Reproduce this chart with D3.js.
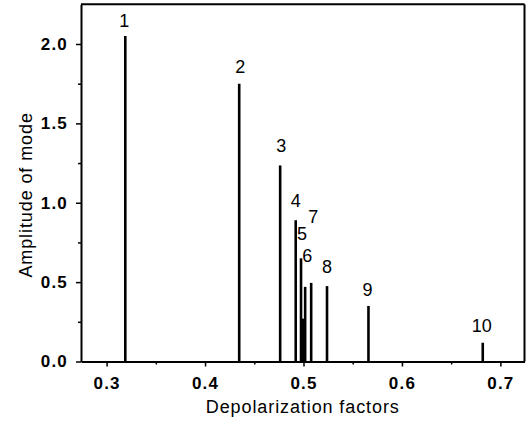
<!DOCTYPE html>
<html>
<head>
<meta charset="utf-8">
<script src="https://cdn.jsdelivr.net/npm/d3@7"></script>
<style>
  html, body { margin: 0; padding: 0; background: #fff; }
  svg { display: block; }
  text { font-family: "Liberation Sans", Arial, Helvetica, sans-serif; fill: #000; }
</style>
</head>
<body>
<svg id="chart" width="532" height="432"></svg>
<script>
// ---- data ----
const factors    = [0.319, 0.4347, 0.4763, 0.4921, 0.4975, 0.4997, 0.5017, 0.5078, 0.5239, 0.566, 0.6821];
const amplitudes = [2.05, 1.75, 1.235, 0.89, 0.65, 0.27, 0.47, 0.495, 0.475, 0.35, 0.118];
const modeLabels = ["1", "2", "3", "4", "5", null, "6", "7", "8", "9", "10"];
const xMajorTicks = [0.3, 0.4, 0.5, 0.6, 0.7];
const xMinorTicks = [0.35, 0.45, 0.55, 0.65];
const yMajorTicks = [0, 0.5, 1.0, 1.5, 2.0];
const yMinorTicks = [0.25, 0.75, 1.25, 1.75];
const xTitle = "Depolarization factors";
const yTitle = "Amplitude of mode";

// ---- layout (label nudges in pixels, per mode) ----
const labelNudge = [[-1,-9],[1,-11],[1,-13],[0,-13],[1,-18],[0,0],[2,-25],[2,-60],[0,-13],[-1,-10],[-1,-11]];

const svg = d3.select("#chart");
const mLeft = 81, mRight = 524.5, mTop = 4.3, mBottom = 361.5;

const x = d3.scaleLinear().domain([0.274, 0.7245]).range([mLeft, mRight]);
const y = d3.scaleLinear().domain([0, 2.25]).range([mBottom, mTop]);

// frame (top & right)
svg.append("line").attr("x1", mLeft).attr("x2", mRight).attr("y1", mTop).attr("y2", mTop)
  .attr("stroke", "#000").attr("stroke-width", 2);
svg.append("line").attr("x1", mRight).attr("x2", mRight).attr("y1", mTop).attr("y2", mBottom)
  .attr("stroke", "#000").attr("stroke-width", 2);

// x axis
const xAxis = svg.append("g").attr("transform", `translate(0,${mBottom})`)
  .call(d3.axisBottom(x).tickValues(xMajorTicks).tickSize(5).tickSizeOuter(0).tickPadding(10)
    .tickFormat(d3.format(".1f")));
xAxis.select(".domain").attr("stroke-width", 2);
xAxis.selectAll(".tick line").attr("stroke-width", 1.5);
xAxis.selectAll(".tick text").style("font-size", "17px").style("font-weight", "bold")
  .style("letter-spacing", "1.2px").attr("font-family", null);
const xMinor = svg.append("g").attr("transform", `translate(0,${mBottom})`)
  .call(d3.axisBottom(x).tickValues(xMinorTicks).tickSize(3).tickSizeOuter(0).tickFormat(""));
xMinor.select(".domain").remove();
xMinor.selectAll(".tick line").attr("stroke-width", 1.5);

// y axis
const yAxis = svg.append("g").attr("transform", `translate(${mLeft},0)`)
  .call(d3.axisLeft(y).tickValues(yMajorTicks).tickSize(5).tickSizeOuter(0).tickPadding(8)
    .tickFormat(d3.format(".1f")));
yAxis.select(".domain").attr("stroke-width", 2);
yAxis.selectAll(".tick line").attr("stroke-width", 1.5);
yAxis.selectAll(".tick text").style("font-size", "17px").style("font-weight", "bold")
  .style("letter-spacing", "1.2px").attr("font-family", null);
const yMinor = svg.append("g").attr("transform", `translate(${mLeft},0)`)
  .call(d3.axisLeft(y).tickValues(yMinorTicks).tickSize(3).tickSizeOuter(0).tickFormat(""));
yMinor.select(".domain").remove();
yMinor.selectAll(".tick line").attr("stroke-width", 1.5);

// mode lines
const modes = factors.map((f, i) => ({ f, a: amplitudes[i], label: modeLabels[i], nudge: labelNudge[i] }));
svg.append("g").selectAll("line").data(modes).join("line")
  .attr("x1", d => x(d.f)).attr("x2", d => x(d.f))
  .attr("y1", y(0)).attr("y2", d => y(d.a))
  .attr("stroke", "#000").attr("stroke-width", 2.6);

// mode labels
svg.append("g").selectAll("text").data(modes.filter(d => d.label)).join("text")
  .attr("x", d => x(d.f) + d.nudge[0])
  .attr("y", d => y(d.a) + d.nudge[1])
  .attr("text-anchor", "middle")
  .style("font-size", "18px")
  .text(d => d.label);

// axis titles
svg.append("text").attr("x", (mLeft + mRight) / 2).attr("y", 413)
  .attr("text-anchor", "middle").style("font-size", "18px").style("letter-spacing", "0.9px")
  .text(xTitle);
svg.append("text").attr("transform", `translate(32,${(mTop + mBottom) / 2 + 12}) rotate(-90)`)
  .attr("text-anchor", "middle").style("font-size", "18px").style("letter-spacing", "0.9px")
  .text(yTitle);
</script>
</body>
</html>
